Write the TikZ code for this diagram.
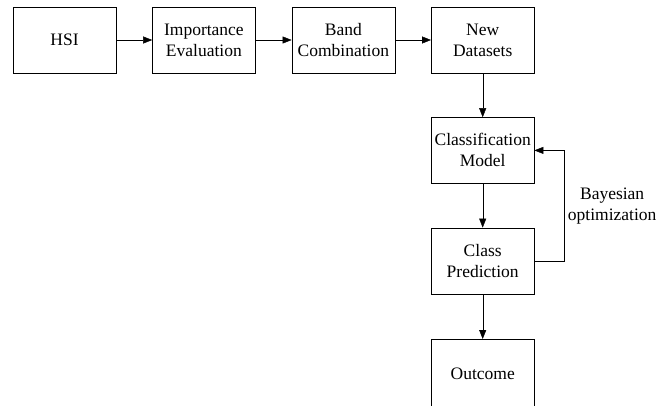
\documentclass[tikz,border=0pt]{standalone}
\usepackage{fontspec}
\setmainfont{Liberation Serif}
\usetikzlibrary{positioning, arrows.meta}
\tikzset{
  ->,
  >={Triangle[length=9pt, width=7pt]},
  line width=0.8pt,
  x=1pt, y=1pt,
  node distance=36pt,
  every node/.style={font=\fontsize{17.5}{21}\selectfont, align=center},
  stage/.style={draw, minimum width=103pt, minimum height=66pt, inner sep=2pt},
}

\begin{document}
\begin{tikzpicture}
		\useasboundingbox (0,0) rectangle (670,-405);

		% stages
		\node[stage] (hsi) at (64.5,-40) {HSI};
		\node[stage, right=of hsi] (imp) {Importance\\Evaluation};
		\node[stage, right=of imp] (band) {Band\\Combination};
		\node[stage, right=of band] (new) {New\\Datasets};
		\node[stage, below=44pt of new] (model) {Classification\\Model};
		\node[stage, below=44pt of model] (pred) {Class\\Prediction};
		\node[stage, below=45pt of pred, minimum height=69pt] (out) {Outcome};

		% flow
		\draw (hsi) edge (imp)
		(imp) edge (band)
		(band) edge (new)
		(new) edge (model)
		(model) edge (pred)
		(pred) edge (out);
		\draw (pred.east) -- ++(30,0) |- node[pos=0.25, right] {Bayesian\\optimization} (model.east);

	\end{tikzpicture}
\end{document}
